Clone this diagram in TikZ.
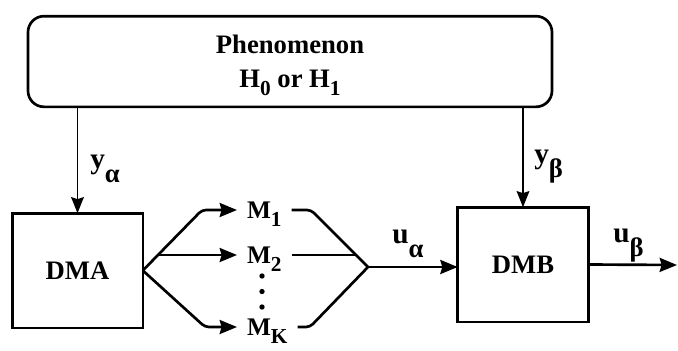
\documentclass[tikz,border=0pt]{standalone}
\usepackage{fontspec}
\setmainfont{Liberation Serif}
\usetikzlibrary{arrows.meta}
\newcommand{\lsub}[1]{\raisebox{-11pt}{\fontsize{20}{20}\selectfont #1}}
\newcommand{\msub}[1]{\smash{\raisebox{-6.5pt}{\fontsize{16}{16}\selectfont #1}}}
\begin{document}
\begin{tikzpicture}[x=0.75pt,y=-0.75pt,
  box/.style={draw, line width=2pt, inner sep=0pt, outer sep=0pt,
    minimum width=98pt, minimum height=86pt, font=\fontsize{20}{20}\selectfont\bfseries},
  conn/.style={line width=2pt, rounded corners=3pt},
  arr/.style={conn, -{Stealth[length=13pt,width=10.5pt,inset=1.5pt]}},
  varr/.style={line width=1.4pt, -{Stealth[length=12pt,width=9.5pt,inset=1.5pt]}},
  mnode/.style={anchor=west, inner xsep=7.5pt, inner ysep=0pt, outer sep=0pt,
    font=\fontsize{19}{19}\selectfont\bfseries},
  lab/.style={anchor=base west, inner sep=0pt, font=\fontsize{22}{22}\selectfont\bfseries},
  dot/.style={circle, fill, inner sep=0pt, minimum size=4pt}]
\useasboundingbox (0,0) rectangle (678,350);

% phenomenon box
\node[draw, line width=2pt, rounded corners=12pt, minimum width=393pt, minimum height=68pt,
  align=center, font=\fontsize{20}{25}\selectfont\bfseries, inner sep=0pt, outer sep=0pt]
  (phen) at (290,61.5) {Phenomenon\\H\msub{0} or H\msub{1}};

% decision makers
\node[box] (dma) at (77.5,270.5) {DMA};
\node[box] (dmb) at (523,264.5) {DMB};

% messages
\node[mnode] (m1) at (237,210) {M\msub{1}};
\node[mnode] (m2) at (237,255) {M\msub{2}};
\node[mnode] (mk) at (237,327) {M\msub{K}};
\node[dot] (d1) at (262,276) {};
\node[dot] (d2) at (262,291.5) {};
\node[dot] (d3) at (262,307) {};

% coordinates
\coordinate (c1) at (202,210);
\coordinate (b2) at (158,255);
\coordinate (ck) at (205,327);
\coordinate (r1) at (311,210);
\coordinate (rk) at (310,327);
\coordinate (j) at (368,267);
\coordinate (b3) at (356,255);
\coordinate (out) at (677,265);

% observations
\draw[varr] (phen.south -| dma.north) -- (dma.north);
\draw[varr] (phen.south -| dmb.north) -- (dmb.north);

% fan out
\draw[arr] (dma.east) -- (c1) -- (m1.west);
\draw[arr] (b2) -- (m2.west);
\draw[arr] (dma.east) -- (ck) -- (mk.west);

% fan in
\draw[conn] (m1.east) -- (r1) -- (j);
\draw[conn] (m2.east) -- (b3);
\draw[conn] (mk.east) -- (rk) -- (j);
\draw[arr] (j) -- (j -| dmb.west);
\draw[arr] (dmb.east) -- (out);

% labels
\node[lab] (ya) at (90,168) {y\lsub{α}};
\node[lab] (yb) at (534,163) {y\lsub{β}};
\node[lab] (ua) at (392,243) {u\lsub{α}};
\node[lab] (ub) at (613,242) {u\lsub{β}};
\end{tikzpicture}
\end{document}
